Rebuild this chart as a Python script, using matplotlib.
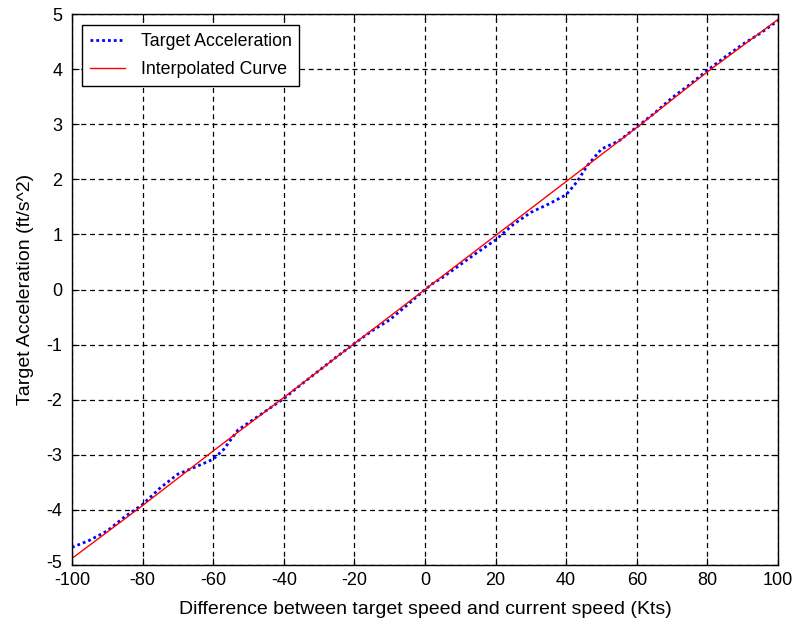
import numpy as np
import matplotlib.pyplot as plt
import matplotlib.transforms as mtransforms

plt.rcParams['font.family'] = ['Liberation Sans', 'DejaVu Sans']
plt.rcParams['axes.unicode_minus'] = False

# Target acceleration (blue dotted)
speed_diff = [-100, -95, -90, -85, -80, -75, -70, -65, -60, -57, -53, -50, -45,
              -40, -35, -30, -25, -20, -15, -10, -5, 0, 2, 5, 10, 15, 20, 25,
              30, 35, 40, 43, 46, 50, 55, 60, 65, 70, 75, 80, 85, 90, 95, 100]
target_accel = [-4.68, -4.55, -4.38, -4.12, -3.9, -3.6, -3.35, -3.22, -3.08,
                -2.9, -2.55, -2.42, -2.2, -1.98, -1.72, -1.47, -1.22, -0.98,
                -0.75, -0.55, -0.28, 0.0, 0.1, 0.22, 0.45, 0.68, 0.9, 1.18,
                1.4, 1.55, 1.72, 1.95, 2.25, 2.55, 2.7, 2.95, 3.2, 3.48, 3.72,
                3.98, 4.22, 4.45, 4.65, 4.88]

# Interpolated curve (red)
curve_x = [-100, -80, -60, -40, -20, 0, 20, 40, 60, 80, 100]
curve_y = [-4.88, -3.92, -2.93, -1.96, -0.98, 0.0, 0.98, 1.96, 2.94, 3.95, 4.9]

x_ticks = np.arange(-100, 101, 20)
y_ticks = np.arange(-5, 6, 1)

fig = plt.figure(figsize=(7.94, 6.28), dpi=100)
ax = fig.add_axes([0.0907, 0.1003, 0.8891, 0.8774])

ax.plot(speed_diff, target_accel, color='blue', linestyle=(0, (1, 1.1)),
        linewidth=2.0, label='Target Acceleration')
ax.plot(curve_x, curve_y, color='red', linestyle='-', linewidth=1.0,
        label='Interpolated Curve')

ax.set_xlim(-100, 100)
ax.set_ylim(-5, 5)
ax.set_xticks(x_ticks)
ax.set_yticks(y_ticks)
ax.grid(True, color='black', linestyle=(0, (4, 3)), linewidth=0.9)
ax.tick_params(direction='in', length=5, top=True, right=True, labelsize=13)
ax.tick_params(axis='y', pad=7)
ax.tick_params(axis='x', pad=5)
for side in ax.spines.values():
    side.set_linewidth(1.0)
    side.set_color('black')

# nudge the bottom y label up a bit so it clears the -100 label
fig.canvas.draw()
bottom_label = ax.get_yticklabels()[0]
bottom_label.set_transform(bottom_label.get_transform() +
                           mtransforms.ScaledTranslation(0, 4 / 100, fig.dpi_scale_trans))

ax.set_xlabel('Difference between target speed and current speed (Kts)',
              fontsize=14, labelpad=9)
ax.set_ylabel('Target Acceleration (ft/s^2)', fontsize=14, labelpad=9)

leg = ax.legend(loc='upper left', bbox_to_anchor=(0.014, 0.98), borderaxespad=0,
                fancybox=False, framealpha=1, edgecolor='black', fontsize=12.8,
                handlelength=2.0, handletextpad=0.85, borderpad=0.45,
                labelspacing=0.62)
leg.get_frame().set_linewidth(1.0)

fig.savefig('out.png', dpi=100)
